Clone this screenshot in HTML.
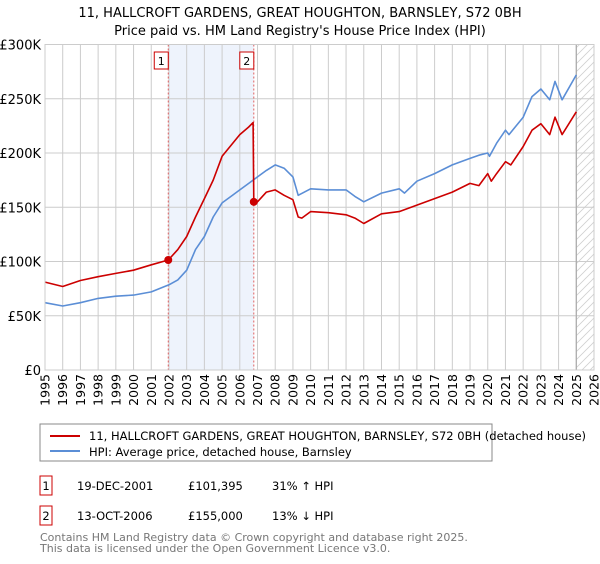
<!DOCTYPE html>
<html><head><meta charset="utf-8"><style>
body{margin:0;width:600px;height:560px;background:#fff;font-family:"DejaVu Sans","Liberation Sans",sans-serif;overflow:hidden}
svg text{font-family:"DejaVu Sans","Liberation Sans",sans-serif}
</style></head><body>
<svg id="c" width="600" height="560" xmlns="http://www.w3.org/2000/svg">
<defs><pattern id="hatch" width="8" height="8" patternUnits="userSpaceOnUse"><path d="M0,8 L8,0 M-2,2 L2,-2 M6,10 L10,6" stroke="#d0d0d0" stroke-width="0.8"/></pattern></defs>
<text x="300" y="17" text-anchor="middle" font-size="13">11, HALLCROFT GARDENS, GREAT HOUGHTON, BARNSLEY, S72 0BH</text>
<text x="300" y="35" text-anchor="middle" font-size="13">Price paid vs. HM Land Registry's House Price Index (HPI)</text>
<g id="grid"></g><g id="marks"></g><g id="axes"></g>
<rect x="40" y="424" width="452" height="37" fill="#fff" stroke="#888"/>
<line x1="50" y1="436" x2="80" y2="436" stroke="#cc0000" stroke-width="2"/>
<text x="89" y="440" font-size="11.5">11, HALLCROFT GARDENS, GREAT HOUGHTON, BARNSLEY, S72 0BH (detached house)</text>
<line x1="50" y1="451" x2="80" y2="451" stroke="#5b8ed6" stroke-width="2"/>
<text x="89" y="456" font-size="11.5">HPI: Average price, detached house, Barnsley</text>
<g font-size="11.5">
<rect x="40" y="476" width="12" height="19" fill="#fff" stroke="#cc0000"/><text x="46" y="490" text-anchor="middle">1</text>
<text x="77" y="490">19-DEC-2001</text><text x="188" y="490">£101,395</text><text x="272" y="490">31% ↑ HPI</text></g>
<g font-size="11.5">
<rect x="40" y="506" width="12" height="19" fill="#fff" stroke="#cc0000"/><text x="46" y="520" text-anchor="middle">2</text>
<text x="77" y="520">13-OCT-2006</text><text x="188" y="520">£155,000</text><text x="272" y="520">13% ↓ HPI</text></g>
<text x="40" y="541" font-size="11" fill="#777">Contains HM Land Registry data © Crown copyright and database right 2025.</text>
<text x="40" y="552" font-size="11" fill="#777">This data is licensed under the Open Government Licence v3.0.</text>
</svg>
<script>
const hpiYears=[1995,1996,1997,1998,1999,2000,2001,2002,2002.5,2003,2003.5,2004,2004.5,2005,2005.5,2006,2006.5,2007,2007.5,2008,2008.5,2009,2009.3,2010,2011,2012,2012.5,2013,2014,2015,2015.3,2016,2017,2018,2019,2019.5,2020,2020.1,2020.5,2021,2021.2,2022,2022.5,2023,2023.5,2023.8,2024.2,2025];
const hpiValues=[62,59,62,66,68,69,72,78.5,83,92,111,123,141,154,160,166,172,178,184,189,186,178,161,167,166,166,160,155,163,167,163,174,181,189,195,198,200,197,209,221,217,233,252,259,249,266,249,272];
const saleYears=[1995,1996,1997,1998,1999,2000,2001,2001.96,2002.5,2003,2003.5,2004,2004.5,2005,2005.5,2006,2006.5,2006.75,2006.79,2007,2007.5,2008,2008.5,2009,2009.3,2009.5,2010,2011,2012,2012.5,2013,2014,2015,2016,2017,2018,2019,2019.5,2020,2020.2,2020.5,2021,2021.3,2022,2022.5,2023,2023.5,2023.8,2024.2,2025];
const saleValues=[81,77,82.5,86,89,92,97,101.4,111,123,141,158,175,197,207,217,224,228,155,155,164,166,161,157,141,140,146,145,143,140,135,144,146,152,158,164,172,170,181,174,181,192,189,206,221,227,217,233,217,238];
const salePoints=[[2001.96,101.395],[2006.79,155]];
const yTicks=[0,50,100,150,200,250,300];
const yLabels=["£0","£50K","£100K","£150K","£200K","£250K","£300K"];
const xTicks=[1995,1996,1997,1998,1999,2000,2001,2002,2003,2004,2005,2006,2007,2008,2009,2010,2011,2012,2013,2014,2015,2016,2017,2018,2019,2020,2021,2022,2023,2024,2025,2026];
const L=45,R=594,T=44.5,B=370;
const xs=y=>L+(y-1995)/(2026-1995)*(R-L);
const ys=v=>B-v/300*(B-T);
const NS='http://www.w3.org/2000/svg';
function mk(p,tag,at){const e=document.createElementNS(NS,tag);for(const k in at)e.setAttribute(k,at[k]);p.appendChild(e);return e;}
const g=document.getElementById('grid'),m=document.getElementById('marks'),a=document.getElementById('axes');
let sh=mk(g,'rect',{x:xs(2001.96),y:T,width:xs(2006.79)-xs(2001.96),height:B-T,fill:'#eef3fc'});


let hz=mk(g,'rect',{x:xs(2025),y:T,width:R-xs(2025),height:B-T,fill:'url(#hatch)'});


yTicks.forEach((t,i)=>{const l=mk(g,'line',{x1:L,x2:R,y1:ys(t),y2:ys(t),stroke:'#ccc'});


const tx=mk(a,'text',{x:L-4,y:ys(t)+5,'text-anchor':'end','font-size':'13'});tx.textContent=yLabels[i];

});
xTicks.forEach(t=>{const l=mk(g,'line',{x1:xs(t),x2:xs(t),y1:T,y2:B,stroke:'#ccc'});


const tx=mk(a,'text',{x:0,y:0,'font-size':'12.5','text-anchor':'end',transform:`translate(${xs(t)+4.5},${B+4}) rotate(-90)`});tx.textContent=t;

});
const nl=mk(g,'line',{x1:xs(2025),x2:xs(2025),y1:T,y2:B,stroke:'#aaa','stroke-width':1.2});


salePoints.forEach((p,i)=>{const l=mk(g,'line',{x1:xs(p[0]),x2:xs(p[0]),y1:T,y2:B,stroke:'#e06060','stroke-dasharray':'2,2'});


const bx=mk(a,'g',{});


mk(bx,'rect',{x:xs(p[0])-14,y:52,width:14,height:17,fill:'#fff',stroke:'#cc0000'});
const tt=mk(bx,'text',{x:xs(p[0])-7,y:65,'text-anchor':'middle','font-size':'11'});tt.textContent=i+1;});
function path(X,V,c,n){const d=X.map((x,i)=>(i?'L':'M')+xs(x).toFixed(1)+','+ys(V[i]).toFixed(1)).join('');
const p=mk(m,'path',{d:d,fill:'none',stroke:c,'stroke-width':1.6,'stroke-linejoin':'round'});

}
path(hpiYears,hpiValues,'#5b8ed6','hpi-line');
path(saleYears,saleValues,'#cc0000','property-line');
salePoints.forEach(p=>{const c=mk(m,'circle',{cx:xs(p[0]),cy:ys(p[1]),r:4,fill:'#cc0000'});

});
const ax=mk(a,'rect',{x:L,y:T,width:R-L,height:B-T,fill:'none',stroke:'#ccc'});


</script>
</body></html>
